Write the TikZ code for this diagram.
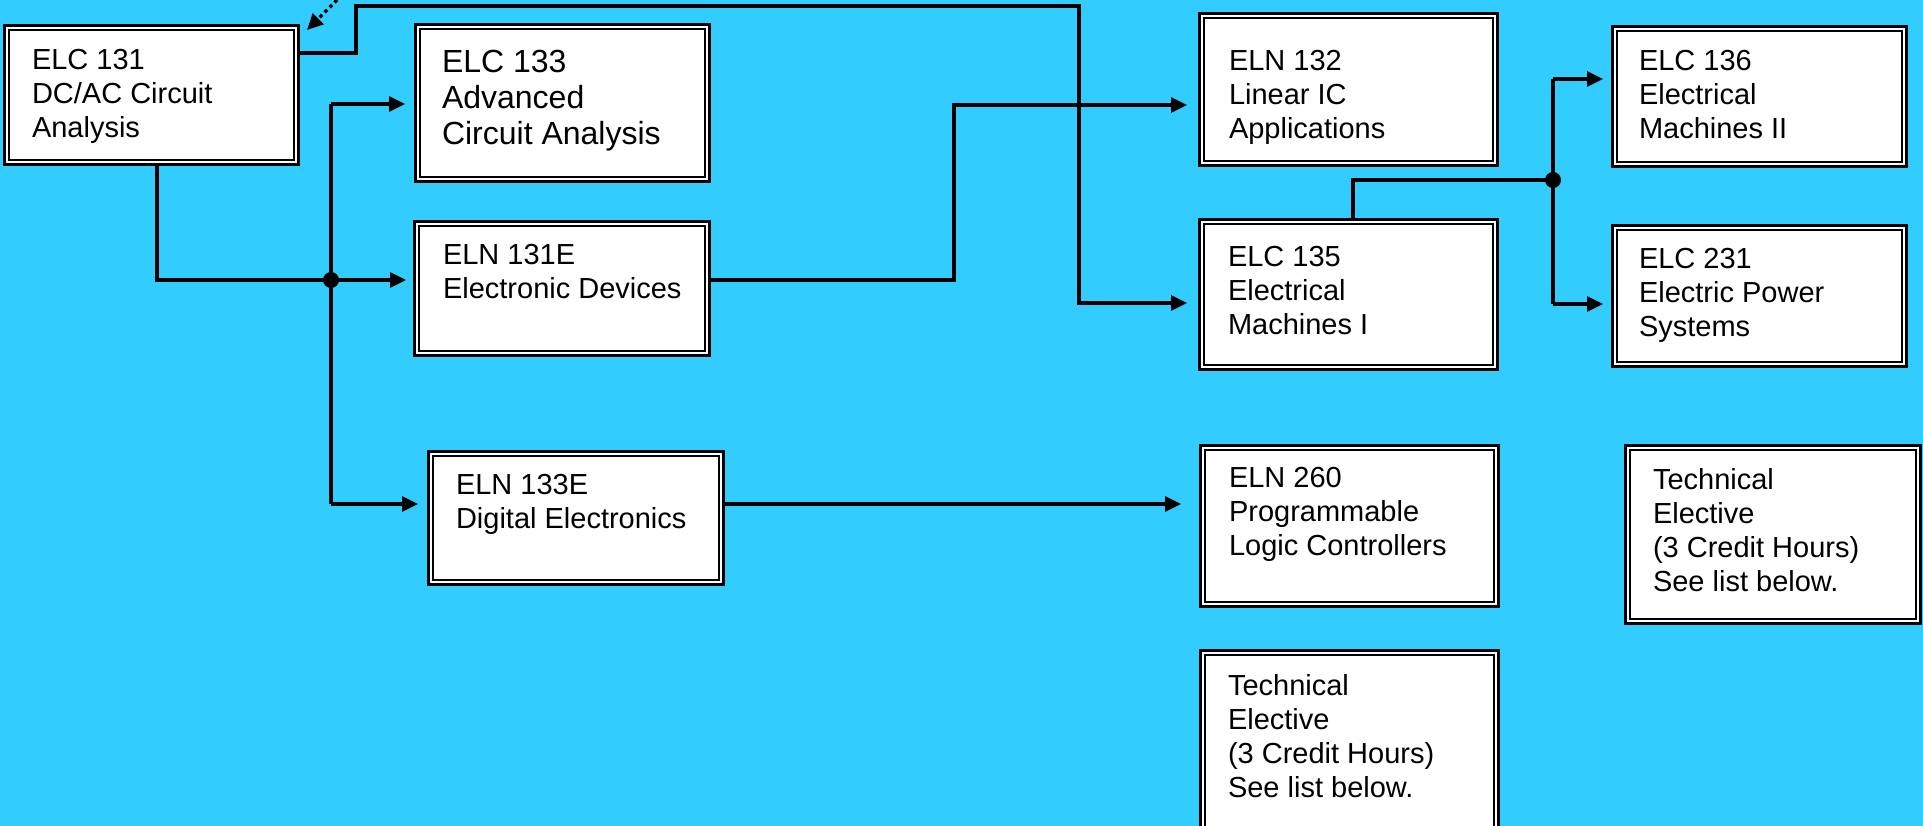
\documentclass[tikz,border=0pt]{standalone}
\usepackage{fontspec}
\setmainfont{Liberation Sans}
\usetikzlibrary{arrows.meta,fit,calc}
\definecolor{bg}{HTML}{33CCFF}
\tikzset{
  cbox/.style={draw=black, line width=3pt, fill=white, inner sep=0pt, outer sep=0pt},
  cinner/.style={draw=black, line width=2pt},
  ctext/.style={anchor=north west, inner sep=0pt, outer sep=0pt, align=left, font=\fontsize{29}{34}\selectfont},
  ctextbig/.style={ctext, font=\fontsize{32}{36}\selectfont},
  conn/.style={draw=black, line width=3.3pt},
  arr/.style={conn, -{Triangle[length=16pt,width=15pt]}, shorten >=10pt},
  dotarr/.style={draw=black, line width=3.5pt, dash pattern=on 3.5pt off 3.5pt, -{Triangle[length=16pt,width=15pt]}},
  jdot/.style={circle, fill=black, inner sep=0pt, minimum size=16pt}
}
\newcommand\coursebox[5]{%
  \node[cbox, fit={(#2,#3) (#4,#5)}] (#1) {};
  \draw[cinner] ([xshift=4.5pt,yshift=-4.5pt]#1.north west) rectangle ([xshift=-4.5pt,yshift=4.5pt]#1.south east);
}
\begin{document}
\begin{tikzpicture}[x=1pt,y=-1pt]
\path[use as bounding box, fill=bg] (0,0) rectangle (1923,826);
\clip (0,0) rectangle (1923,826);

% boxes
\coursebox{elc131}{4}{26}{298}{165}
\coursebox{elc133}{415}{25}{709}{182}
\coursebox{eln131e}{414}{222}{709}{356}
\coursebox{eln133e}{428}{451}{723}{584}
\coursebox{eln132}{1199}{14}{1497}{166}
\coursebox{elc135}{1199}{220}{1497}{370}
\coursebox{elc136}{1612}{27}{1906}{167}
\coursebox{elc231}{1612}{226}{1906}{367}
\coursebox{eln260}{1200}{445}{1498}{606}
\coursebox{te1}{1625}{445}{1920}{623}
\coursebox{te2}{1200}{650}{1498}{832}

% texts (first baseline minus cap height)
\node[ctext] (elc131t) at (32,49) {ELC 131\\DC/AC Circuit\\Analysis};
\node[ctextbig] (elc133t) at (442,50) {ELC 133\\Advanced\\Circuit Analysis};
\node[ctext] (eln131et) at (443,244) {ELN 131E\\Electronic Devices};
\node[ctext] (eln133et) at (456,474) {ELN 133E\\Digital Electronics};
\node[ctext] (eln132t) at (1229,50) {ELN 132\\Linear IC\\Applications};
\node[ctext] (elc135t) at (1228,246) {ELC 135\\Electrical\\Machines I};
\node[ctext] (elc136t) at (1639,50) {ELC 136\\Electrical\\Machines II};
\node[ctext] (elc231t) at (1639,248) {ELC 231\\Electric Power\\Systems};
\node[ctext] (eln260t) at (1229,467) {ELN 260\\Programmable\\Logic Controllers};
\node[ctext] (te1t) at (1653,468) {Technical\\Elective\\(3 Credit Hours)\\See list below.};
\node[ctext] (te2t) at (1228,674) {Technical\\Elective\\(3 Credit Hours)\\See list below.};

% junctions and bend points
\node[jdot] (j1) at (331,280) {};
\node[jdot] (j2) at (1553,180) {};
\coordinate (c1) at (157,280);
\coordinate (j1t) at (331,104);
\coordinate (j1b) at (331,504);
\coordinate (b1) at (954,280);
\coordinate (b2) at (954,105);
\coordinate (d1) at (356,53);
\coordinate (d2) at (356,6);
\coordinate (d3) at (1079,6);
\coordinate (d4) at (1079,303);
\coordinate (e1) at (1353,180);
\coordinate (j2t) at (1553,79);
\coordinate (j2b) at (1553,304);
\coordinate (dotstart) at (342,-5);

% connectors
\draw[conn] (elc131.south -| c1) -- (c1) -- (j1.center);
\draw[arr, shorten >=8pt] (j1.center) -- (eln131e.west |- j1);
\draw[conn] (j1t) -- (j1b);
\draw[arr] (j1t) -- (elc133.west |- j1t);
\draw[arr] (j1b) -- (eln133e.west |- j1b);
\draw[arr, shorten >=12pt] (eln131e.east |- b1) -- (b1) -- (b2) -- (eln132.west |- b2);
\draw[arr, shorten >=19pt] (eln133e.east |- j1b) -- (eln260.west |- j1b);
\draw[arr, shorten >=12pt] (elc131.east |- d1) -- (d1) -- (d2) -- (d3) -- (d4) -- (elc135.west |- d4);
\draw[conn] (elc135.north -| e1) -- (e1) -- (j2.center);
\draw[conn] (j2t) -- (j2b);
\draw[arr, shorten >=9pt] (j2t) -- (elc136.west |- j2t);
\draw[arr, shorten >=9pt] (j2b) -- (elc231.west |- j2b);
\draw[dotarr] (dotstart) -- ($(elc131.north east)+(9,4)$);
\end{tikzpicture}
\end{document}
